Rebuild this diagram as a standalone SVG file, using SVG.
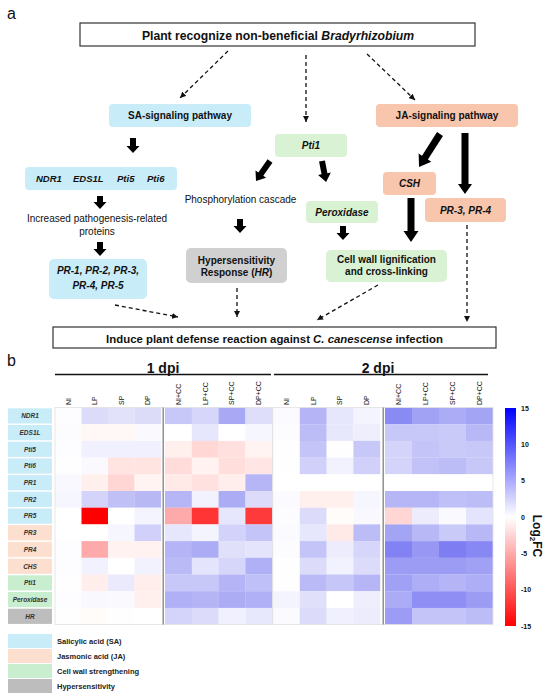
<svg xmlns="http://www.w3.org/2000/svg" width="550" height="700" viewBox="0 0 550 700">
<defs>
<marker id="ah" viewBox="0 0 6 6" refX="6" refY="3" markerWidth="6" markerHeight="6" markerUnits="userSpaceOnUse" orient="auto"><path d="M0,0 L6,3 L0,6 Z" fill="#111"/></marker>
<linearGradient id="cb" x1="0" y1="0" x2="0" y2="1"><stop offset="0" stop-color="#0000ff"/><stop offset="0.5" stop-color="#ffffff"/><stop offset="1" stop-color="#ff0000"/></linearGradient>
</defs>
<style>
text{font-family:"Liberation Sans",Arial,sans-serif;fill:#111}
.b{font-weight:bold}
.bi{font-weight:bold;font-style:italic}
.sa{fill:#c9ecf9}
.ja{fill:#f7c6ad}
.gr{fill:#d9f2d4}
.hr{fill:#d0d0d0}
.wb{fill:#fff;stroke:#333;stroke-width:1.2}
.dash{fill:none;stroke:#111;stroke-width:1.3;stroke-dasharray:4 3;marker-end:url(#ah)}
.blk{fill:#000}
.f10{font-size:10px}
.rl{font-size:6.5px;font-weight:bold;font-style:italic;fill:#333;text-anchor:middle}
.ch{font-size:7px}
.lg{font-size:7.5px;font-weight:bold;fill:#222}
.cbl{font-size:7px;font-weight:bold}
</style>
<rect width="550" height="700" fill="#fff"/>
<text x="7" y="19" style="font-size:16px">a</text>
<text x="7" y="366" style="font-size:16px">b</text>

<g id="connectors">
<path class="dash" d="M228,51 L180,98"/>
<path class="dash" d="M306,55 L306,122"/>
<path class="dash" d="M367,54 L415,100"/>
<path class="dash" d="M115,305 L178,317"/>
<path class="dash" d="M237,288 L237,317"/>
<path class="dash" d="M378,285 L317,320"/>
<path class="dash" d="M467,225 L467,322"/>
<path class="blk" d="M130,138 L136,138 L136,146 L139.5,146 L133,153 L126.5,146 L130,146 Z"/>
<path class="blk" d="M97,196 L103,196 L103,202 L106.5,202 L100,209 L93.5,202 L97,202 Z"/>
<path class="blk" d="M97,242 L103,242 L103,249 L106.5,249 L100,256 L93.5,249 L97,249 Z"/>
<path class="blk" d="M237,219 L243,219 L243,226 L246.5,226 L240,233 L233.5,226 L237,226 Z"/>
<path class="blk" d="M340,226 L346,226 L346,233 L349.5,233 L343,240 L336.5,233 L340,233 Z"/>
<path class="blk" d="M461.5,133 L468.5,133 L468.5,184 L472,184 L465,194 L458,184 L461.5,184 Z"/>
<path class="blk" d="M407.5,198 L414.5,198 L414.5,231 L418.5,231 L411,242 L403.5,231 L407.5,231 Z"/>
<path class="blk" transform="translate(440,134) rotate(122.5)" d="M0,-3.5 L28,-3.5 L28,-7.5 L39,0 L28,7.5 L28,3.5 L0,3.5 Z"/>
<path class="blk" transform="translate(270,161) rotate(125)" d="M0,-3 L16,-3 L16,-6.5 L24.4,0 L16,6.5 L16,3 L0,3 Z"/>
<path class="blk" transform="translate(322,161) rotate(79)" d="M0,-3 L13,-3 L13,-6.5 L21.4,0 L13,6.5 L13,3 L0,3 Z"/>
</g>

<g id="n-top"><rect class="wb" x="80" y="23" width="395" height="23"/><text class="b" x="278" y="39.5" text-anchor="middle" style="font-size:12.2px">Plant recognize non-beneficial <tspan font-style="italic">Bradyrhizobium</tspan></text></g>
<g id="n-sa"><rect class="sa" x="109" y="104" width="142" height="23" rx="4"/><text class="b f10" x="180" y="119" text-anchor="middle">SA-signaling pathway</text></g>
<g id="n-ja"><rect class="ja" x="376" y="104" width="142" height="23" rx="4"/><text class="b f10" x="447" y="119" text-anchor="middle">JA-signaling pathway</text></g>
<g id="n-pti1"><rect class="gr" x="275" y="134" width="72" height="23" rx="4"/><text class="bi f10" x="311" y="149" text-anchor="middle">Pti1</text></g>
<g id="n-genes"><rect class="sa" x="25" y="167" width="152" height="23" rx="4"/><text class="bi" style="font-size:9.5px" y="182"><tspan x="36">NDR1</tspan><tspan x="73">EDS1L</tspan><tspan x="117">Pti5</tspan><tspan x="147">Pti6</tspan></text></g>
<g id="n-incr"><text class="f10" x="97" y="222" text-anchor="middle">Increased pathogenesis-related</text><text class="f10" x="97" y="235" text-anchor="middle">proteins</text></g>
<g id="n-phos"><text class="f10" x="240.5" y="203" text-anchor="middle">Phosphorylation cascade</text></g>
<g id="n-csh"><rect class="ja" x="383" y="172" width="53" height="23" rx="4"/><text class="bi f10" x="409.5" y="187" text-anchor="middle">CSH</text></g>
<g id="n-pr34"><rect class="ja" x="425" y="198" width="81" height="24" rx="4"/><text class="bi f10" x="465.5" y="214" text-anchor="middle">PR-3, PR-4</text></g>
<g id="n-perox"><rect class="gr" x="306" y="201" width="72" height="22" rx="4"/><text class="bi f10" x="342" y="215.5" text-anchor="middle">Peroxidase</text></g>
<g id="n-hr"><rect class="hr" x="186" y="248" width="101" height="35" rx="5"/><text class="b f10" x="236.5" y="264" text-anchor="middle">Hypersensitivity</text><text class="b f10" x="236.5" y="276" text-anchor="middle">Response (<tspan font-style="italic">HR</tspan>)</text></g>
<g id="n-cw"><rect class="gr" x="326" y="250" width="121" height="32" rx="5"/><text class="b f10" x="386.5" y="263" text-anchor="middle">Cell wall lignification</text><text class="b f10" x="386.5" y="275" text-anchor="middle">and cross-linking</text></g>
<g id="n-pr"><rect class="sa" x="49" y="259" width="98" height="40" rx="5"/><text class="bi f10" x="98" y="274" text-anchor="middle">PR-1, PR-2, PR-3,</text><text class="bi f10" x="98" y="289" text-anchor="middle">PR-4, PR-5</text></g>
<g id="n-bottom"><rect class="wb" x="53" y="327" width="443" height="21"/><text class="b" x="274.5" y="342.5" text-anchor="middle" style="font-size:11.4px">Induce plant defense reaction against <tspan font-style="italic">C. canescense</tspan> infection</text></g>

<g id="heatmap-headers">
<text class="b" x="163" y="373" text-anchor="middle" style="font-size:14px">1 dpi</text>
<text class="b" x="378" y="373" text-anchor="middle" style="font-size:14px">2 dpi</text>
<line x1="55" y1="374.5" x2="271" y2="374.5" stroke="#111" stroke-width="1.5"/>
<line x1="274" y1="374.5" x2="488" y2="374.5" stroke="#111" stroke-width="1.5"/>
<g class="ch">
<text transform="translate(70.8,405) rotate(-90)">NI</text>
<text transform="translate(97.3,405) rotate(-90)">LP</text>
<text transform="translate(123.8,405) rotate(-90)">SP</text>
<text transform="translate(150.3,405) rotate(-90)">DP</text>
<text transform="translate(180.9,405) rotate(-90)">NI+CC</text>
<text transform="translate(207.6,405) rotate(-90)">LP+CC</text>
<text transform="translate(234.3,405) rotate(-90)">SP+CC</text>
<text transform="translate(261.1,405) rotate(-90)">DP+CC</text>
<text transform="translate(288.9,405) rotate(-90)">NI</text>
<text transform="translate(315.6,405) rotate(-90)">LP</text>
<text transform="translate(342.4,405) rotate(-90)">SP</text>
<text transform="translate(369.1,405) rotate(-90)">DP</text>
<text transform="translate(401,405) rotate(-90)">NI+CC</text>
<text transform="translate(428,405) rotate(-90)">LP+CC</text>
<text transform="translate(455,405) rotate(-90)">SP+CC</text>
<text transform="translate(482,405) rotate(-90)">DP+CC</text>
</g>
</g>

<g id="row-labels">
<rect class="sa" x="8" y="408.3" width="44" height="15.2"/><text class="rl" x="30" y="418.2">NDR1</text>
<rect class="sa" x="8" y="425" width="44" height="15.2"/><text class="rl" x="30" y="434.9">EDS1L</text>
<rect class="sa" x="8" y="441.7" width="44" height="15.2"/><text class="rl" x="30" y="451.6">Pti5</text>
<rect class="sa" x="8" y="458.4" width="44" height="15.2"/><text class="rl" x="30" y="468.3">Pti6</text>
<rect class="sa" x="8" y="475.1" width="44" height="15.2"/><text class="rl" x="30" y="485">PR1</text>
<rect class="sa" x="8" y="491.8" width="44" height="15.2"/><text class="rl" x="30" y="501.7">PR2</text>
<rect class="sa" x="8" y="508.5" width="44" height="15.2"/><text class="rl" x="30" y="518.4">PR5</text>
<rect fill="#fcdfcf" x="8" y="525.2" width="44" height="15.2"/><text class="rl" x="30" y="535.1">PR3</text>
<rect fill="#fcdfcf" x="8" y="541.9" width="44" height="15.2"/><text class="rl" x="30" y="551.8">PR4</text>
<rect fill="#fcdfcf" x="8" y="558.6" width="44" height="15.2"/><text class="rl" x="30" y="568.5">CHS</text>
<rect fill="#c8eecf" x="8" y="575.3" width="44" height="15.2"/><text class="rl" x="30" y="585.2">Pti1</text>
<rect fill="#c8eecf" x="8" y="592" width="44" height="15.2"/><text class="rl" x="30" y="601.9">Peroxidase</text>
<rect fill="#bdbdbd" x="8" y="608.7" width="44" height="15.2"/><text class="rl" x="30" y="618.6">HR</text>
</g>

<g id="heatmap-cells">
<!-- row NDR1 -->
<rect x="55" y="407.5" width="26.7" height="16.8" fill="#fdfdff"/><rect x="81.5" y="407.5" width="26.7" height="16.8" fill="#dcdcfa"/><rect x="108" y="407.5" width="26.7" height="16.8" fill="#e2e2fa"/><rect x="134.5" y="407.5" width="26.6" height="16.8" fill="#dcdcf8"/>
<rect x="165" y="407.5" width="27" height="16.8" fill="#c8c8f8"/><rect x="191.8" y="407.5" width="27" height="16.8" fill="#d6d6fa"/><rect x="218.6" y="407.5" width="27" height="16.8" fill="#a8a8f4"/><rect x="245.4" y="407.5" width="26.9" height="16.8" fill="#dedefa"/>
<rect x="273" y="407.5" width="27" height="16.8" fill="#fbfbff"/><rect x="299.8" y="407.5" width="27" height="16.8" fill="#b4b4f6"/><rect x="326.6" y="407.5" width="27" height="16.8" fill="#e6e6fc"/><rect x="353.4" y="407.5" width="26.8" height="16.8" fill="#f4f4fe"/>
<rect x="385" y="407.5" width="27.1" height="16.8" fill="#8a8af4"/><rect x="412" y="407.5" width="27.1" height="16.8" fill="#a2a2f4"/><rect x="439" y="407.5" width="27.1" height="16.8" fill="#acacf6"/><rect x="466" y="407.5" width="27" height="16.8" fill="#a4a4f4"/>
<!-- EDS1L -->
<rect x="55" y="424.2" width="26.7" height="16.8" fill="#fcfcfe"/><rect x="81.5" y="424.2" width="26.7" height="16.8" fill="#fff8f6"/><rect x="108" y="424.2" width="26.7" height="16.8" fill="#fff8f6"/><rect x="134.5" y="424.2" width="26.6" height="16.8" fill="#fafafe"/>
<rect x="165" y="424.2" width="27" height="16.8" fill="#ffffff"/><rect x="191.8" y="424.2" width="27" height="16.8" fill="#e6e6fc"/><rect x="218.6" y="424.2" width="27" height="16.8" fill="#ffffff"/><rect x="245.4" y="424.2" width="26.9" height="16.8" fill="#f6f6fe"/>
<rect x="273" y="424.2" width="27" height="16.8" fill="#fcfcff"/><rect x="299.8" y="424.2" width="27" height="16.8" fill="#bcbcf6"/><rect x="326.6" y="424.2" width="27" height="16.8" fill="#e8e8fc"/><rect x="353.4" y="424.2" width="26.8" height="16.8" fill="#eeeefc"/>
<rect x="385" y="424.2" width="27.1" height="16.8" fill="#c8c8f8"/><rect x="412" y="424.2" width="27.1" height="16.8" fill="#c8c8f8"/><rect x="439" y="424.2" width="27.1" height="16.8" fill="#cacaf8"/><rect x="466" y="424.2" width="27" height="16.8" fill="#b8b8f6"/>
<!-- Pti5 -->
<rect x="55" y="440.9" width="26.7" height="16.8" fill="#fdfdff"/><rect x="81.5" y="440.9" width="26.7" height="16.8" fill="#f0f0fe"/><rect x="108" y="440.9" width="26.7" height="16.8" fill="#f0f0fe"/><rect x="134.5" y="440.9" width="26.6" height="16.8" fill="#f0f0fe"/>
<rect x="165" y="440.9" width="27" height="16.8" fill="#fff0ee"/><rect x="191.8" y="440.9" width="27" height="16.8" fill="#ffd8d6"/><rect x="218.6" y="440.9" width="27" height="16.8" fill="#ffe0de"/><rect x="245.4" y="440.9" width="26.9" height="16.8" fill="#fff4f2"/>
<rect x="273" y="440.9" width="27" height="16.8" fill="#fefeff"/><rect x="299.8" y="440.9" width="27" height="16.8" fill="#c4c4f8"/><rect x="326.6" y="440.9" width="27" height="16.8" fill="#fefeff"/><rect x="353.4" y="440.9" width="26.8" height="16.8" fill="#c8c8f8"/>
<rect x="385" y="440.9" width="27.1" height="16.8" fill="#d4d4fa"/><rect x="412" y="440.9" width="27.1" height="16.8" fill="#c4c4f8"/><rect x="439" y="440.9" width="27.1" height="16.8" fill="#cacaf8"/><rect x="466" y="440.9" width="27" height="16.8" fill="#c8c8f8"/>
<!-- Pti6 -->
<rect x="55" y="457.6" width="26.7" height="16.8" fill="#fefefe"/><rect x="81.5" y="457.6" width="26.7" height="16.8" fill="#fafafe"/><rect x="108" y="457.6" width="26.7" height="16.8" fill="#ffe4e2"/><rect x="134.5" y="457.6" width="26.6" height="16.8" fill="#ffe4e2"/>
<rect x="165" y="457.6" width="27" height="16.8" fill="#ffdcda"/><rect x="191.8" y="457.6" width="27" height="16.8" fill="#fff2f0"/><rect x="218.6" y="457.6" width="27" height="16.8" fill="#ffdedc"/><rect x="245.4" y="457.6" width="26.9" height="16.8" fill="#ffe6e4"/>
<rect x="273" y="457.6" width="27" height="16.8" fill="#fefeff"/><rect x="299.8" y="457.6" width="27" height="16.8" fill="#d0d0fa"/><rect x="326.6" y="457.6" width="27" height="16.8" fill="#f2f2fe"/><rect x="353.4" y="457.6" width="26.8" height="16.8" fill="#d0d0fa"/>
<rect x="385" y="457.6" width="27.1" height="16.8" fill="#d4d4fa"/><rect x="412" y="457.6" width="27.1" height="16.8" fill="#c2c2f8"/><rect x="439" y="457.6" width="27.1" height="16.8" fill="#bcbcf6"/><rect x="466" y="457.6" width="27" height="16.8" fill="#c8c8f8"/>
<!-- PR1 -->
<rect x="55" y="474.3" width="26.7" height="16.8" fill="#f8f8fe"/><rect x="81.5" y="474.3" width="26.7" height="16.8" fill="#fff0ee"/><rect x="108" y="474.3" width="26.7" height="16.8" fill="#ffd6d4"/><rect x="134.5" y="474.3" width="26.6" height="16.8" fill="#fff4f2"/>
<rect x="165" y="474.3" width="27" height="16.8" fill="#ffeae8"/><rect x="191.8" y="474.3" width="27" height="16.8" fill="#ffe2e0"/><rect x="218.6" y="474.3" width="27" height="16.8" fill="#ffeeec"/><rect x="245.4" y="474.3" width="26.9" height="16.8" fill="#b6b6f6"/>
<rect x="273" y="474.3" width="107.2" height="16.8" fill="#ffffff"/>
<rect x="385" y="474.3" width="108" height="16.8" fill="#ffffff"/>
<!-- PR2 -->
<rect x="55" y="491" width="26.7" height="16.8" fill="#f6f6fe"/><rect x="81.5" y="491" width="26.7" height="16.8" fill="#d4d4fa"/><rect x="108" y="491" width="26.7" height="16.8" fill="#c0c0f6"/><rect x="134.5" y="491" width="26.6" height="16.8" fill="#b8b8f4"/>
<rect x="165" y="491" width="27" height="16.8" fill="#b6b6f6"/><rect x="191.8" y="491" width="27" height="16.8" fill="#f2f2fe"/><rect x="218.6" y="491" width="27" height="16.8" fill="#acacf4"/><rect x="245.4" y="491" width="26.9" height="16.8" fill="#dcdcfa"/>
<rect x="273" y="491" width="27" height="16.8" fill="#fafaff"/><rect x="299.8" y="491" width="27" height="16.8" fill="#fff0ee"/><rect x="326.6" y="491" width="27" height="16.8" fill="#fff0ee"/><rect x="353.4" y="491" width="26.8" height="16.8" fill="#f6f6fe"/>
<rect x="385" y="491" width="27.1" height="16.8" fill="#b6b6f6"/><rect x="412" y="491" width="27.1" height="16.8" fill="#b6b6f6"/><rect x="439" y="491" width="27.1" height="16.8" fill="#c0c0f8"/><rect x="466" y="491" width="27" height="16.8" fill="#bcbcf6"/>
<!-- PR5 -->
<rect x="55" y="507.7" width="26.7" height="16.8" fill="#ffffff"/><rect x="81.5" y="507.7" width="26.7" height="16.8" fill="#ff0000"/><rect x="108" y="507.7" width="26.7" height="16.8" fill="#ffffff"/><rect x="134.5" y="507.7" width="26.6" height="16.8" fill="#f4f4fe"/>
<rect x="165" y="507.7" width="27" height="16.8" fill="#ffaaaa"/><rect x="191.8" y="507.7" width="27" height="16.8" fill="#ff3434"/><rect x="218.6" y="507.7" width="27" height="16.8" fill="#e6e6fc"/><rect x="245.4" y="507.7" width="26.9" height="16.8" fill="#ff3a3a"/>
<rect x="273" y="507.7" width="27" height="16.8" fill="#fcfcff"/><rect x="299.8" y="507.7" width="27" height="16.8" fill="#dcdcfa"/><rect x="326.6" y="507.7" width="27" height="16.8" fill="#fffcfa"/><rect x="353.4" y="507.7" width="26.8" height="16.8" fill="#f8f8fe"/>
<rect x="385" y="507.7" width="27.1" height="16.8" fill="#ffd6d4"/><rect x="412" y="507.7" width="27.1" height="16.8" fill="#ececfc"/><rect x="439" y="507.7" width="27.1" height="16.8" fill="#fafafe"/><rect x="466" y="507.7" width="27" height="16.8" fill="#e4e4fc"/>
<!-- PR3 -->
<rect x="55" y="524.4" width="26.7" height="16.8" fill="#ffffff"/><rect x="81.5" y="524.4" width="26.7" height="16.8" fill="#ffffff"/><rect x="108" y="524.4" width="26.7" height="16.8" fill="#f6f6fe"/><rect x="134.5" y="524.4" width="26.6" height="16.8" fill="#d0d0fa"/>
<rect x="165" y="524.4" width="27" height="16.8" fill="#e6e6fc"/><rect x="191.8" y="524.4" width="27" height="16.8" fill="#f4f4fe"/><rect x="218.6" y="524.4" width="27" height="16.8" fill="#d2d2fa"/><rect x="245.4" y="524.4" width="26.9" height="16.8" fill="#c4c4f8"/>
<rect x="273" y="524.4" width="27" height="16.8" fill="#fafaff"/><rect x="299.8" y="524.4" width="27" height="16.8" fill="#e6e6fc"/><rect x="326.6" y="524.4" width="27" height="16.8" fill="#ffeae8"/><rect x="353.4" y="524.4" width="26.8" height="16.8" fill="#bcbcf6"/>
<rect x="385" y="524.4" width="27.1" height="16.8" fill="#a4a4f4"/><rect x="412" y="524.4" width="27.1" height="16.8" fill="#b8b8f6"/><rect x="439" y="524.4" width="27.1" height="16.8" fill="#cacaf8"/><rect x="466" y="524.4" width="27" height="16.8" fill="#b8b8f6"/>
<!-- PR4 -->
<rect x="55" y="541.1" width="26.7" height="16.8" fill="#fdfdff"/><rect x="81.5" y="541.1" width="26.7" height="16.8" fill="#ffaaaa"/><rect x="108" y="541.1" width="26.7" height="16.8" fill="#fff2f0"/><rect x="134.5" y="541.1" width="26.6" height="16.8" fill="#fff2f0"/>
<rect x="165" y="541.1" width="27" height="16.8" fill="#b4b4f6"/><rect x="191.8" y="541.1" width="27" height="16.8" fill="#acacf4"/><rect x="218.6" y="541.1" width="27" height="16.8" fill="#e0e0fa"/><rect x="245.4" y="541.1" width="26.9" height="16.8" fill="#e4e4fc"/>
<rect x="273" y="541.1" width="27" height="16.8" fill="#fcfcff"/><rect x="299.8" y="541.1" width="27" height="16.8" fill="#c4c4f8"/><rect x="326.6" y="541.1" width="27" height="16.8" fill="#ececfc"/><rect x="353.4" y="541.1" width="26.8" height="16.8" fill="#d6d6fa"/>
<rect x="385" y="541.1" width="27.1" height="16.8" fill="#8282f4"/><rect x="412" y="541.1" width="27.1" height="16.8" fill="#9898f4"/><rect x="439" y="541.1" width="27.1" height="16.8" fill="#7e7ef2"/><rect x="466" y="541.1" width="27" height="16.8" fill="#8888f4"/>
<!-- CHS -->
<rect x="55" y="557.8" width="26.7" height="16.8" fill="#fdfdff"/><rect x="81.5" y="557.8" width="26.7" height="16.8" fill="#f2f2fe"/><rect x="108" y="557.8" width="26.7" height="16.8" fill="#ffffff"/><rect x="134.5" y="557.8" width="26.6" height="16.8" fill="#f2f2fe"/>
<rect x="165" y="557.8" width="27" height="16.8" fill="#babaf6"/><rect x="191.8" y="557.8" width="27" height="16.8" fill="#e4e4fc"/><rect x="218.6" y="557.8" width="27" height="16.8" fill="#d6d6fa"/><rect x="245.4" y="557.8" width="26.9" height="16.8" fill="#b0b0f6"/>
<rect x="273" y="557.8" width="27" height="16.8" fill="#fefeff"/><rect x="299.8" y="557.8" width="27" height="16.8" fill="#dcdcfa"/><rect x="326.6" y="557.8" width="27" height="16.8" fill="#f2f2fe"/><rect x="353.4" y="557.8" width="26.8" height="16.8" fill="#dcdcfa"/>
<rect x="385" y="557.8" width="27.1" height="16.8" fill="#9c9cf4"/><rect x="412" y="557.8" width="27.1" height="16.8" fill="#9c9cf4"/><rect x="439" y="557.8" width="27.1" height="16.8" fill="#9c9cf4"/><rect x="466" y="557.8" width="27" height="16.8" fill="#a0a0f4"/>
<!-- Pti1 -->
<rect x="55" y="574.5" width="26.7" height="16.8" fill="#fefeff"/><rect x="81.5" y="574.5" width="26.7" height="16.8" fill="#ffeeec"/><rect x="108" y="574.5" width="26.7" height="16.8" fill="#eaeafc"/><rect x="134.5" y="574.5" width="26.6" height="16.8" fill="#ffeeec"/>
<rect x="165" y="574.5" width="27" height="16.8" fill="#c8c8f8"/><rect x="191.8" y="574.5" width="27" height="16.8" fill="#c8c8f8"/><rect x="218.6" y="574.5" width="27" height="16.8" fill="#b4b4f6"/><rect x="245.4" y="574.5" width="26.9" height="16.8" fill="#c0c0f8"/>
<rect x="273" y="574.5" width="27" height="16.8" fill="#fefeff"/><rect x="299.8" y="574.5" width="27" height="16.8" fill="#babaf6"/><rect x="326.6" y="574.5" width="27" height="16.8" fill="#c6c6f8"/><rect x="353.4" y="574.5" width="26.8" height="16.8" fill="#b6b6f6"/>
<rect x="385" y="574.5" width="27.1" height="16.8" fill="#a0a0f4"/><rect x="412" y="574.5" width="27.1" height="16.8" fill="#aeaef6"/><rect x="439" y="574.5" width="27.1" height="16.8" fill="#b4b4f6"/><rect x="466" y="574.5" width="27" height="16.8" fill="#aeaef6"/>
<!-- Peroxidase -->
<rect x="55" y="591.2" width="26.7" height="16.8" fill="#fdfdff"/><rect x="81.5" y="591.2" width="26.7" height="16.8" fill="#f8f8fe"/><rect x="108" y="591.2" width="26.7" height="16.8" fill="#fafafe"/><rect x="134.5" y="591.2" width="26.6" height="16.8" fill="#fff0ee"/>
<rect x="165" y="591.2" width="27" height="16.8" fill="#b0b0f6"/><rect x="191.8" y="591.2" width="27" height="16.8" fill="#b4b4f6"/><rect x="218.6" y="591.2" width="27" height="16.8" fill="#acacf4"/><rect x="245.4" y="591.2" width="26.9" height="16.8" fill="#b0b0f6"/>
<rect x="273" y="591.2" width="27" height="16.8" fill="#f4f4fe"/><rect x="299.8" y="591.2" width="27" height="16.8" fill="#e0e0fa"/><rect x="326.6" y="591.2" width="27" height="16.8" fill="#ffffff"/><rect x="353.4" y="591.2" width="26.8" height="16.8" fill="#eeeefc"/>
<rect x="385" y="591.2" width="27.1" height="16.8" fill="#acacf6"/><rect x="412" y="591.2" width="27.1" height="16.8" fill="#8e8ef4"/><rect x="439" y="591.2" width="27.1" height="16.8" fill="#8e8ef4"/><rect x="466" y="591.2" width="27" height="16.8" fill="#9c9cf4"/>
<!-- HR -->
<rect x="55" y="607.9" width="26.7" height="16.7" fill="#fefefe"/><rect x="81.5" y="607.9" width="26.7" height="16.7" fill="#fffcfa"/><rect x="108" y="607.9" width="26.7" height="16.7" fill="#fefefe"/><rect x="134.5" y="607.9" width="26.6" height="16.7" fill="#ffffff"/>
<rect x="165" y="607.9" width="27" height="16.7" fill="#d4d4fa"/><rect x="191.8" y="607.9" width="27" height="16.7" fill="#dcdcfa"/><rect x="218.6" y="607.9" width="27" height="16.7" fill="#f0f0fe"/><rect x="245.4" y="607.9" width="26.9" height="16.7" fill="#e8e8fc"/>
<rect x="273" y="607.9" width="27" height="16.7" fill="#fafaff"/><rect x="299.8" y="607.9" width="27" height="16.7" fill="#dcdcfa"/><rect x="326.6" y="607.9" width="27" height="16.7" fill="#f0f0fe"/><rect x="353.4" y="607.9" width="26.8" height="16.7" fill="#ececfc"/>
<rect x="385" y="607.9" width="27.1" height="16.7" fill="#9c9cf4"/><rect x="412" y="607.9" width="27.1" height="16.7" fill="#c4c4f8"/><rect x="439" y="607.9" width="27.1" height="16.7" fill="#c4c4f8"/><rect x="466" y="607.9" width="27" height="16.7" fill="#bcbcf6"/>
<rect x="55" y="407.5" width="217.5" height="217.1" fill="none" stroke="#e2e2e2" stroke-width="0.8"/>
<rect x="272.8" y="407.5" width="220.2" height="217.1" fill="none" stroke="#e2e2e2" stroke-width="0.8"/>
<line x1="163.2" y1="407.5" x2="163.2" y2="624.6" stroke="#888" stroke-width="1.4"/>
<line x1="383.2" y1="407.5" x2="383.2" y2="624.6" stroke="#888" stroke-width="1.4"/>
</g>

<g id="colorbar">
<rect x="505" y="408" width="11" height="218" fill="url(#cb)"/>
<text class="cbl" x="521" y="410.5">15</text>
<text class="cbl" x="521" y="446.8">10</text>
<text class="cbl" x="521" y="483.2">5</text>
<text class="cbl" x="521" y="519.5">0</text>
<text class="cbl" x="521" y="555.8">-5</text>
<text class="cbl" x="521" y="592.2">-10</text>
<text class="cbl" x="521" y="628.5">-15</text>
<text class="b" transform="translate(533,536) rotate(90)" text-anchor="middle" style="font-size:12px">Log<tspan dy="3" style="font-size:8px">2</tspan><tspan dy="-3">FC</tspan></text>
</g>

<g id="legend">
<rect class="sa" x="8" y="634" width="44" height="14"/><text class="lg" x="57" y="643.5">Salicylic acid (SA)</text>
<rect fill="#fcdfcf" x="8" y="649" width="44" height="14"/><text class="lg" x="57" y="658.5">Jasmonic acid (JA)</text>
<rect fill="#c8eecf" x="8" y="664" width="44" height="14"/><text class="lg" x="57" y="673.5">Cell wall strengthening</text>
<rect fill="#bdbdbd" x="8" y="679" width="44" height="14"/><text class="lg" x="57" y="688.5">Hypersensitivity</text>
</g>
</svg>
